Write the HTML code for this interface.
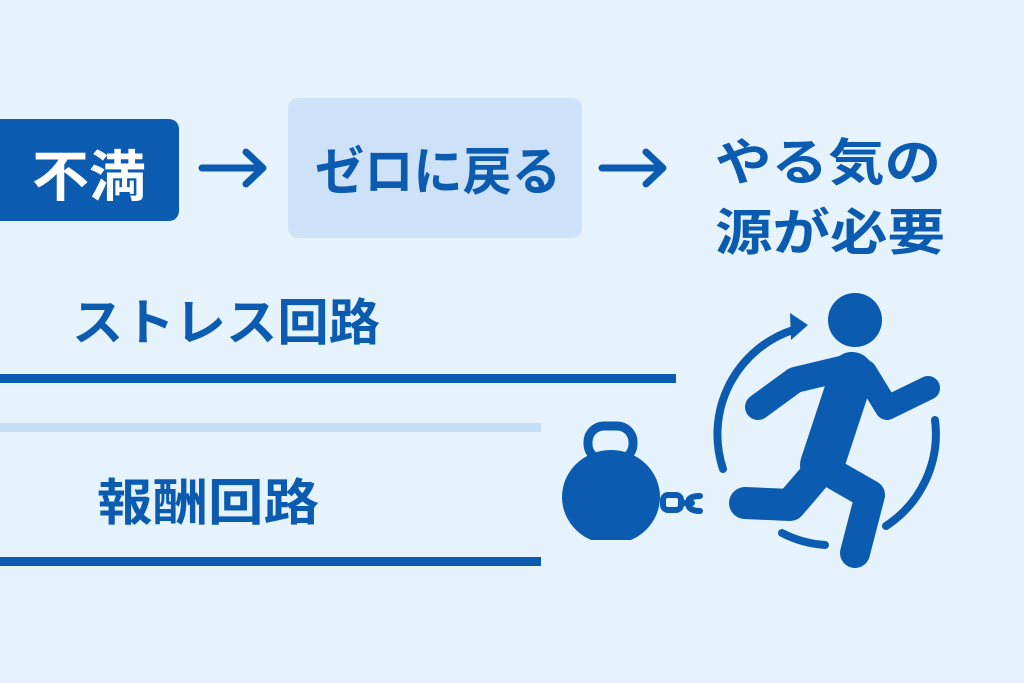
<!DOCTYPE html><html><head><meta charset="utf-8"><style>
html,body{margin:0;padding:0;background:#e6f2fc;}
svg{display:block}
text{font-family:"Liberation Sans","Noto Sans CJK JP",sans-serif;font-weight:700;}
</style></head><body>
<svg width="1024" height="683" viewBox="0 0 1024 683" xmlns="http://www.w3.org/2000/svg">
<defs><clipPath id="kb"><rect x="540" y="400" width="140" height="140"/></clipPath></defs>
<rect width="1024" height="683" fill="#e6f2fc"/>
<rect x="-10" y="119" width="189" height="102" rx="10" fill="#0b5cb0"/>
<text x="32" y="196" font-size="55" fill="#fff" textLength="114" lengthAdjust="spacingAndGlyphs">不満</text>
<g stroke="#0b5cb0" stroke-width="7" fill="none" stroke-linecap="round" stroke-linejoin="round">
<line x1="202" y1="168" x2="262" y2="168"/><polyline points="246,152 263,168 246,184"/>
<line x1="602" y1="168" x2="662" y2="168"/><polyline points="646,152 663,168 646,184"/>
</g>
<rect x="288" y="98" width="294" height="140" rx="10" fill="#cde2f8"/>
<text x="315" y="190" font-size="52" fill="#0b5cb0" textLength="246" lengthAdjust="spacingAndGlyphs">ゼロに戻る</text>
<text x="715" y="180" font-size="50" fill="#0b5cb0" textLength="226" lengthAdjust="spacingAndGlyphs">やる気の</text>
<text x="715" y="250" font-size="50" fill="#0b5cb0" textLength="230" lengthAdjust="spacingAndGlyphs">源が必要</text>
<text x="72" y="340" font-size="50" fill="#0b5cb0" textLength="308" lengthAdjust="spacingAndGlyphs">ストレス回路</text>
<rect x="0" y="374" width="676" height="9" fill="#0b5cb0"/>
<rect x="0" y="423" width="541" height="9" fill="#c6def6"/>
<text x="97" y="520" font-size="50" fill="#0b5cb0" textLength="222" lengthAdjust="spacingAndGlyphs">報酬回路</text>
<rect x="0" y="557" width="541" height="9" fill="#0b5cb0"/>
<!-- kettlebell -->
<rect x="588" y="426" width="45" height="34" rx="16" fill="none" stroke="#0b5cb0" stroke-width="9"/>
<ellipse cx="611" cy="497" rx="49" ry="47" fill="#0b5cb0" clip-path="url(#kb)"/>
<g stroke="#0b5cb0" stroke-width="6" fill="none" stroke-linecap="round">
<rect x="663" y="495" width="18" height="15" rx="5"/>
<path d="M700,496 Q688,496 688,503 Q688,511 700,511"/>
<line x1="681" y1="503" x2="692" y2="503"/>
</g>
<!-- arcs -->
<g stroke="#0b5cb0" stroke-width="8" fill="none" stroke-linecap="round">
<path d="M723,469 A110,110 0 0 1 793,330"/>
<path d="M935,420 A110,110 0 0 1 886,526"/>
<path d="M782,533 A110,110 0 0 0 825,545"/>
</g>
<polygon points="790,313 808,325 791,340" fill="#0b5cb0"/>
<!-- runner -->
<circle cx="855" cy="320" r="27" fill="#0b5cb0"/>
<g stroke="#0b5cb0" fill="none" stroke-linecap="round" stroke-linejoin="round">
<line x1="852" y1="374" x2="822" y2="465" stroke-width="44"/>
<polyline points="845,368 795,380 758,407" stroke-width="26"/>
<polyline points="865,372 887,408 928,388" stroke-width="24"/>
<polyline points="820,470 790,505 745,503" stroke-width="32"/>
<polyline points="835,475 870,495 855,553" stroke-width="30"/>
</g>
</svg>
</body></html>
